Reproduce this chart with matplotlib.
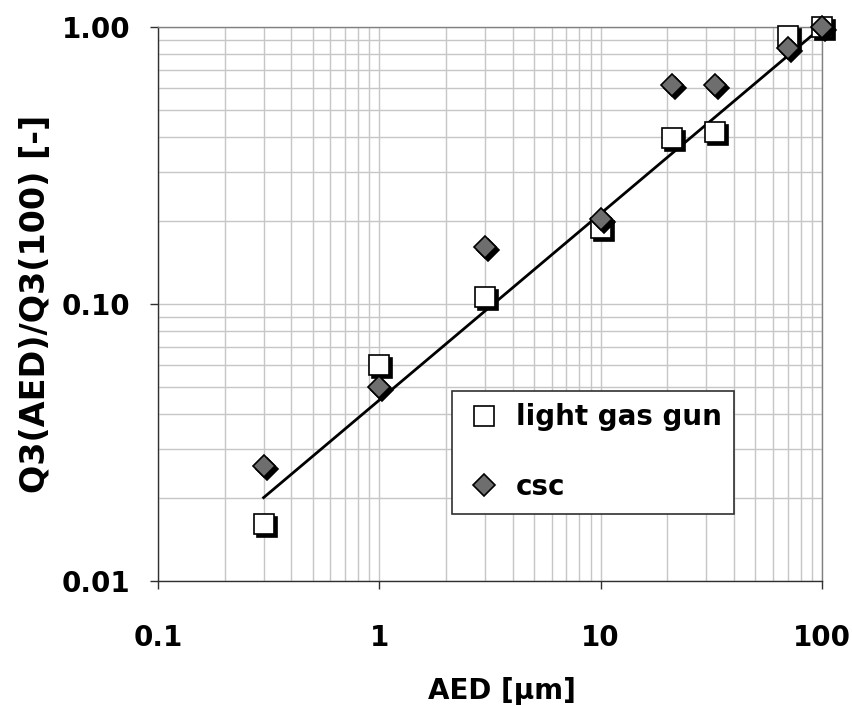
import matplotlib
matplotlib.use("Agg")
import matplotlib.pyplot as plt
from matplotlib.lines import Line2D
from matplotlib.transforms import offset_copy
from matplotlib.ticker import FixedLocator, FixedFormatter, LogLocator, NullFormatter

plt.rcParams['font.family'] = ['DejaVu Sans']
plt.rcParams['font.weight'] = 'bold'

# data
lgg_x = [0.3, 1.0, 3.0, 10.0, 21.0, 33.0, 70.0, 100.0]
lgg_y = [0.016, 0.060, 0.106, 0.188, 0.397, 0.418, 0.93, 1.0]
csc_x = [0.3, 1.0, 3.0, 10.0, 21.0, 33.0, 70.0, 100.0]
csc_y = [0.026, 0.050, 0.160, 0.203, 0.62, 0.62, 0.84, 1.0]
fit_x = [0.3, 100.0]
fit_y = [0.020, 1.0]
xticks = [0.1, 1, 10, 100]
xtick_labels = ['0.1', '1', '10', '100']
yticks = [0.01, 0.1, 1.0]
ytick_labels = ['0.01', '0.10', '1.00']

FS = 20

fig = plt.figure(figsize=(8.52, 7.06), dpi=100)
ax = fig.add_axes([158/852, 1-581/706, (822-158)/852, (581-27)/706])
ax.set_xscale('log')
ax.set_yscale('log')
ax.set_xlim(0.1, 100)
ax.set_ylim(0.01, 1.0)

ax.xaxis.set_major_locator(FixedLocator(xticks))
ax.xaxis.set_major_formatter(FixedFormatter(xtick_labels))
ax.yaxis.set_major_locator(FixedLocator(yticks))
ax.yaxis.set_major_formatter(FixedFormatter(ytick_labels))
ax.xaxis.set_minor_locator(LogLocator(base=10, subs=range(2, 10)))
ax.yaxis.set_minor_locator(LogLocator(base=10, subs=range(2, 10)))
ax.xaxis.set_minor_formatter(NullFormatter())
ax.yaxis.set_minor_formatter(NullFormatter())
ax.grid(True, which='both', color='#c6c6c6', linewidth=1.0)
ax.set_axisbelow(True)
ax.tick_params(which='minor', length=0)
ax.tick_params(which='major', direction='out', length=6, width=1, color='#303030',
               labelsize=FS)
ax.tick_params(axis='x', pad=25)
ax.tick_params(axis='y', pad=14)
for lab in ax.get_xticklabels() + ax.get_yticklabels():
    lab.set_fontweight('bold')

for s in ['left', 'bottom']:
    ax.spines[s].set_color('#303030')
    ax.spines[s].set_linewidth(1.0)
for s in ['top', 'right']:
    ax.spines[s].set_color('#808080')
    ax.spines[s].set_linewidth(1.0)

# fit line
ax.plot(fit_x, fit_y, color='black', linewidth=2.0, zorder=3, clip_on=False)

shadow = offset_copy(ax.transData, fig=fig, x=3, y=-3, units='dots')

# squares (light gas gun) with shadow
ax.plot(lgg_x, lgg_y, linestyle='none', marker='s', markersize=14.5,
        markerfacecolor='black', markeredgecolor='black', markeredgewidth=1.2,
        transform=shadow, zorder=4, clip_on=False)
ax.plot(lgg_x, lgg_y, linestyle='none', marker='s', markersize=14.5,
        markerfacecolor='white', markeredgecolor='black', markeredgewidth=1.2,
        zorder=5, clip_on=False)

# diamonds (csc) with shadow
ax.plot(csc_x, csc_y, linestyle='none', marker='D', markersize=11,
        markerfacecolor='black', markeredgecolor='black', markeredgewidth=1.2,
        transform=shadow, zorder=6, clip_on=False)
ax.plot(csc_x, csc_y, linestyle='none', marker='D', markersize=11,
        markerfacecolor='#6e6e6e', markeredgecolor='black', markeredgewidth=1.2,
        zorder=7, clip_on=False)

ax.set_xlabel('AED [µm]', fontsize=FS, fontweight='bold')
ax.xaxis.set_label_coords((502-158)/664, (581-677)/554)
ax.set_ylabel('Q3(AED)/Q3(100) [-]', fontsize=24, fontweight='bold', labelpad=7)

handles = [
    Line2D([], [], linestyle='none', marker='s', markersize=14.5,
           markerfacecolor='white', markeredgecolor='black', markeredgewidth=1.2),
    Line2D([], [], linestyle='none', marker='D', markersize=11,
           markerfacecolor='#6e6e6e', markeredgecolor='black', markeredgewidth=1.2),
]
leg = ax.legend(handles, ['light gas gun', 'csc'], loc='upper left',
                bbox_to_anchor=(452/852, 1-391/706), bbox_transform=fig.transFigure,
                prop={'size': FS, 'weight': 'bold'}, frameon=True, fancybox=False,
                framealpha=1, edgecolor='#303030', labelspacing=1.5,
                borderpad=0.45, handletextpad=0.45, handlelength=1.4, borderaxespad=0)
leg.get_frame().set_linewidth(1.2)
leg.set_zorder(10)

fig.savefig('out.png', dpi=100)
